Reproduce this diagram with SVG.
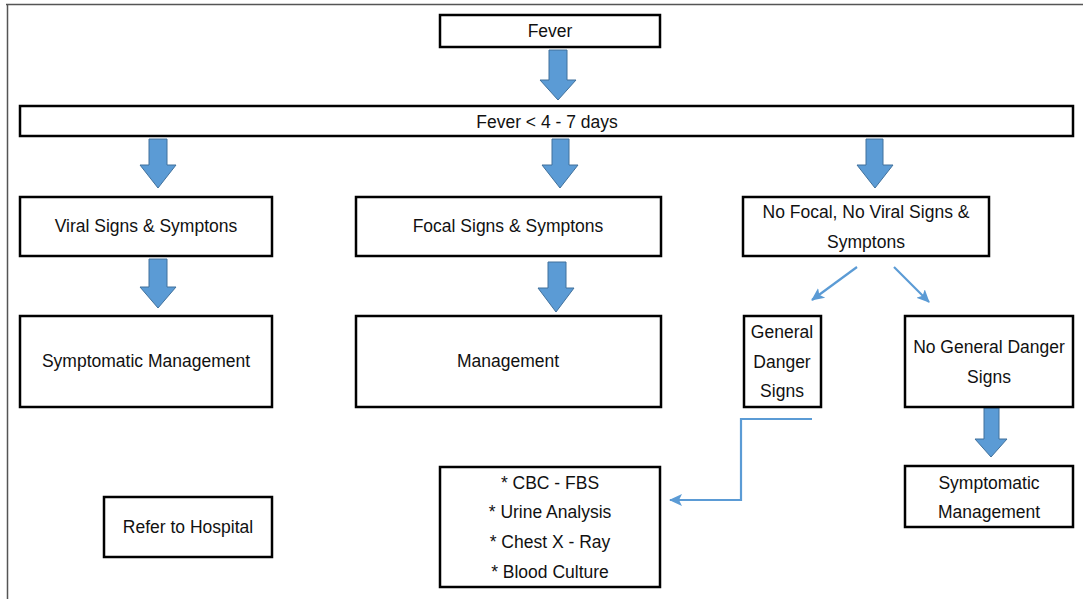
<svg xmlns="http://www.w3.org/2000/svg" width="1083" height="599" viewBox="0 0 1083 599">
<defs>
<style>
.box{fill:#fff;stroke:#000;stroke-width:2.5}
.t{font-family:"Liberation Sans",Arial,sans-serif;font-size:17.5px;fill:#111;text-anchor:middle;dominant-baseline:central}
.blk{fill:#5B9BD5;stroke:#41719C;stroke-width:1}
.thin{fill:none;stroke:#5B9BD5;stroke-width:2.2}
</style>
<marker id="ah" markerUnits="userSpaceOnUse" markerWidth="14" markerHeight="14" viewBox="0 0 14 14" refX="12" refY="7" orient="auto">
<path d="M0,1 L13,7 L0,13 L3,7 Z" fill="#5B9BD5"/>
</marker>
</defs>
<rect width="1083" height="599" fill="#fff"/>
<g id="frame" stroke="#555" stroke-width="1.5" fill="none">
<line x1="6" y1="4.5" x2="1083" y2="4.5"/>
<line x1="7.5" y1="4" x2="7.5" y2="599"/>
</g>
<g id="connectors">
<path class="blk" d="M549,50 H567 V80 H576 L558,100 L540,80 H549 Z"/>
<path class="blk" d="M149,139 H167 V165 H176 L158,188 L140,165 H149 Z"/>
<path class="blk" d="M552,139 H569 V165 H578 L560,188 L542,165 H552 Z"/>
<path class="blk" d="M866,139 H883 V165 H893 L875,188 L857,165 H866 Z"/>
<path class="blk" d="M149,259 H167 V287 H176 L158,308 L140,287 H149 Z"/>
<path class="blk" d="M548,262 H566 V288 H574 L556,312 L538,288 H548 Z"/>
<path class="blk" d="M984,408 H999 V439 H1007 L991,457 L975,439 H984 Z"/>
<line class="thin" x1="857" y1="267" x2="812" y2="300" marker-end="url(#ah)"/>
<line class="thin" x1="894" y1="267" x2="929" y2="302" marker-end="url(#ah)"/>
<polyline class="thin" points="812,419 741,419 741,500 670,500" marker-end="url(#ah)"/>
</g>
<g id="n-fever"><rect class="box" x="440" y="15" width="220" height="32"/><text class="t" x="550" y="31">Fever</text></g>
<g id="n-fever47"><rect class="box" x="20" y="106" width="1053" height="30"/><text class="t" x="547" y="122">Fever &lt; 4 - 7 days</text></g>
<g id="n-viral"><rect class="box" x="20" y="197" width="252" height="59"/><text class="t" x="146" y="226">Viral Signs &amp; Symptons</text></g>
<g id="n-focal"><rect class="box" x="356" y="197" width="305" height="59"/><text class="t" x="508" y="226">Focal Signs &amp; Symptons</text></g>
<g id="n-nofocal"><rect class="box" x="743" y="197" width="246" height="59"/><text class="t" x="866" y="212">No Focal, No Viral Signs &amp;</text><text class="t" x="866" y="242">Symptons</text></g>
<g id="n-symp"><rect class="box" x="20" y="316" width="252" height="91"/><text class="t" x="146" y="361">Symptomatic Management</text></g>
<g id="n-mgmt"><rect class="box" x="356" y="316" width="305" height="91"/><text class="t" x="508" y="361">Management</text></g>
<g id="n-gds"><rect class="box" x="744" y="316" width="77" height="91"/><text class="t" x="782" y="332">General</text><text class="t" x="782" y="362">Danger</text><text class="t" x="782" y="391">Signs</text></g>
<g id="n-nogds"><rect class="box" x="905" y="316" width="168" height="91"/><text class="t" x="989" y="347">No General Danger</text><text class="t" x="989" y="377">Signs</text></g>
<g id="n-tests"><rect class="box" x="440" y="467" width="220" height="120"/><text class="t" x="550" y="483">* CBC - FBS</text><text class="t" x="550" y="512">* Urine Analysis</text><text class="t" x="550" y="542">* Chest X - Ray</text><text class="t" x="550" y="572">* Blood Culture</text></g>
<g id="n-symp2"><rect class="box" x="905" y="466" width="168" height="61"/><text class="t" x="989" y="483">Symptomatic</text><text class="t" x="989" y="512">Management</text></g>
<g id="n-refer"><rect class="box" x="104" y="497" width="168" height="60"/><text class="t" x="188" y="527">Refer to Hospital</text></g>
</svg>
